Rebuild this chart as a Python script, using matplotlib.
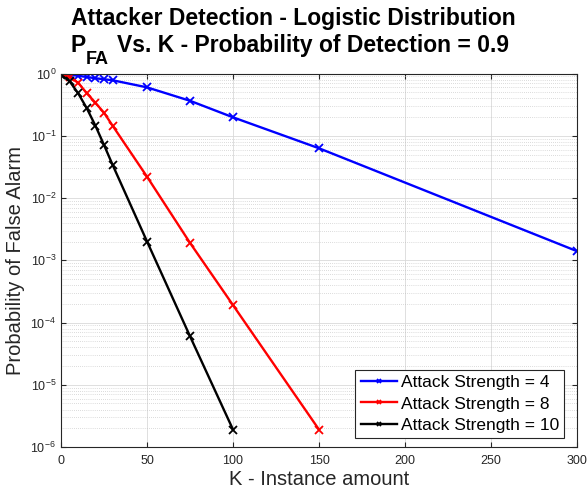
import matplotlib
matplotlib.use("Agg")
import matplotlib.pyplot as plt
from matplotlib.ticker import LogLocator, NullFormatter

plt.rcParams['font.family'] = ['Liberation Sans', 'DejaVu Sans']
plt.rcParams['mathtext.fontset'] = 'custom'
plt.rcParams['mathtext.rm'] = 'Liberation Sans'
plt.rcParams['mathtext.bf'] = 'Liberation Sans:bold'

# instance amounts K for each strength
k_blue = [0, 5, 10, 15, 20, 25, 30, 50, 75, 100, 150, 300]
k_red = [0, 5, 10, 15, 20, 25, 30, 50, 75, 100, 150]
k_black = [0, 5, 10, 15, 20, 25, 30, 50, 75, 100]

# probability of false alarm
pfa_blue = [1.0, 0.96, 0.92, 0.88, 0.84, 0.81, 0.78, 0.6, 0.365, 0.198, 0.063, 0.0014]
pfa_red = [0.97, 0.87, 0.71, 0.48, 0.34, 0.234, 0.145, 0.022, 0.0019, 0.00019, 0.0000019]
pfa_black = [0.95, 0.75, 0.48, 0.276, 0.145, 0.071, 0.034, 0.002, 0.00006, 0.0000019]

labels = ['Attack Strength = 4', 'Attack Strength = 8', 'Attack Strength = 10']

W, H = 587, 497
fig = plt.figure(figsize=(5.87, 4.97), dpi=100)
ax = fig.add_axes([0.104, 0.1006, 0.879, 0.7514])

style = dict(linewidth=1.7, marker='x', markersize=6, markeredgewidth=1.3)
ax.semilogy(k_blue, pfa_blue, color=(0, 0, 1), label=labels[0], **style)
ax.semilogy(k_red, pfa_red, color=(1, 0, 0), label=labels[1], **style)
ax.semilogy(k_black, pfa_black, color='k', label=labels[2], **style)

ax.set_xlim(0, 300)
ax.set_ylim(1e-6, 1)
ax.set_xticks([0, 50, 100, 150, 200, 250, 300])
ax.yaxis.set_major_locator(LogLocator(base=10, numticks=10))
ax.yaxis.set_minor_locator(LogLocator(base=10, subs=range(2, 10), numticks=100))
ax.yaxis.set_minor_formatter(NullFormatter())
ax.xaxis.get_offset_text().set_visible(False)
ax.yaxis.get_offset_text().set_visible(False)

ax.grid(True, which='major', color='#d9d9d9', linewidth=0.6)
ax.grid(True, which='minor', axis='y', color='#bbbbbb', linestyle=(0, (1, 2)), linewidth=0.5)
ax.set_axisbelow(True)

ax.tick_params(which='both', direction='in', top=True, right=True, labelsize=9, colors='#262626')
ax.tick_params(axis='x', pad=6)
ax.tick_params(which='minor', length=0)
for s in ax.spines.values():
    s.set_color('#262626')
    s.set_linewidth(0.8)

ax.set_xlabel('K - Instance amount', fontsize=14.5, color='#262626', labelpad=2)
ax.set_ylabel('Probability of False Alarm', fontsize=14.5, color='#262626', labelpad=4)

# two-line bold title, second line with a large subscript like MATLAB
fig.text(293.5 / W, 1 - 25 / H, 'Attacker Detection - Logistic Distribution',
         fontsize=16.5, fontweight='bold', ha='center', va='baseline')
fig.text(70 / W, 1 - 52 / H, 'P', fontsize=16.5, fontweight='bold', va='baseline')
fig.text(86 / W, 1 - 64 / H, 'FA', fontsize=13, fontweight='bold', va='baseline')
fig.text(117 / W, 1 - 52 / H, 'Vs. K - Probability of Detection = 0.9',
         fontsize=16.5, fontweight='bold', va='baseline')

leg = ax.legend(loc='lower right', bbox_to_anchor=(564 / W, 1 - 438 / H),
                bbox_transform=fig.transFigure, borderaxespad=0,
                fontsize=12.5, fancybox=False, framealpha=1, edgecolor='#262626',
                handlelength=2.1, handletextpad=0.2, labelspacing=0.35,
                borderpad=0.3, markerscale=0.6)
leg.get_frame().set_linewidth(0.8)

fig.savefig('out.png', dpi=100)
